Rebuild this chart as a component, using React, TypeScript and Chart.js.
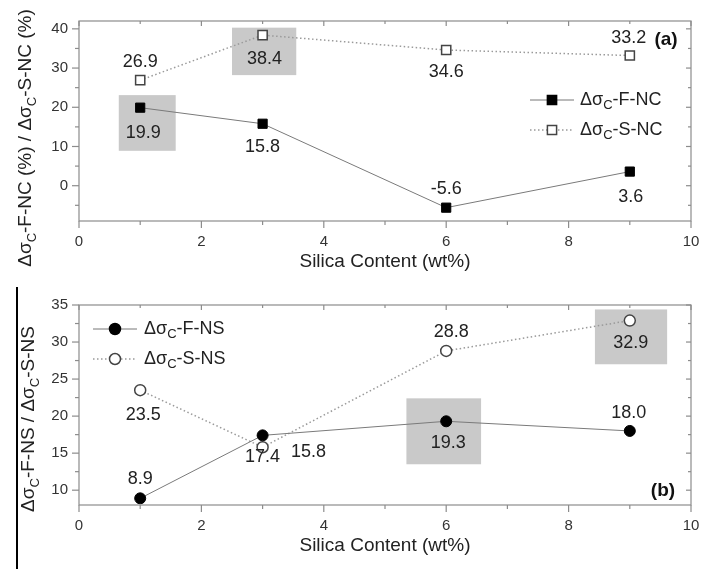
import React, { useEffect, useRef } from "react";
import { Chart, registerables } from "chart.js";

Chart.register(...registerables);

// Silica content of the samples (wt%)
const silica = [1, 3, 6, 9];

// Panel (a): change in critical stress, NC series (%)
const fNC = [19.9, 15.8, -5.6, 3.6];
const sNC = [26.9, 38.4, 34.6, 33.2];

// Panel (b): change in critical stress, NS series
const fNS = [8.9, 17.4, 19.3, 18.0];
const sNS = [23.5, 15.8, 28.8, 32.9];

// Axis tick labels
const xTicks = [0, 2, 4, 6, 8, 10];
const yTicksA = [0, 10, 20, 30, 40];
const yTicksB = [10, 15, 20, 25, 30, 35];

const FONT = "'Liberation Sans', Arial, Helvetica, sans-serif";
const FRAME = "#8c8c8c";
const TEXT = "#222";
const BOX = "#c9c9c9";

type Part = [string, boolean];

function partsFor(series: string): Part[] {
  return [["\u0394\u03c3", false], ["C", true], [series, false]];
}

// Draws text made of normal and subscript pieces starting at (x, y) with a middle baseline.
function drawParts(ctx: CanvasRenderingContext2D, parts: Part[], x: number, y: number, size: number, align: "left" | "center") {
  const sub = Math.round(size * 0.7);
  ctx.textBaseline = "middle";
  ctx.textAlign = "left";
  let total = 0;
  for (const [t, s] of parts) {
    ctx.font = `${s ? sub : size}px ${FONT}`;
    total += ctx.measureText(t).width;
  }
  let cx = align === "center" ? x - total / 2 : x;
  for (const [t, s] of parts) {
    ctx.font = `${s ? sub : size}px ${FONT}`;
    ctx.fillText(t, cx, s ? y + size * 0.32 : y);
    cx += ctx.measureText(t).width;
  }
}

type Marker = "rect" | "circle";

function drawMarker(ctx: CanvasRenderingContext2D, kind: Marker, x: number, y: number, filled: boolean) {
  ctx.save();
  ctx.beginPath();
  if (kind === "rect") ctx.rect(x - 4.6, y - 4.6, 9.2, 9.2);
  else ctx.arc(x, y, 5.5, 0, Math.PI * 2);
  ctx.fillStyle = filled ? "#000" : "#fff";
  ctx.fill();
  ctx.lineWidth = 1.5;
  ctx.strokeStyle = filled ? "#000" : "#444";
  ctx.stroke();
  ctx.restore();
}

interface Panel {
  height: number;
  yMin: number;
  yMax: number;
  yTicks: number[];
  marker: Marker;
  fill: number[];
  open: number[];
  fName: string;
  sName: string;
  // label offsets in px relative to each point: [dx, dy]
  fOffsets: [number, number][];
  sOffsets: [number, number][];
  boxes: { x0: number; x1: number; y0: number; y1: number }[];
  legend: { x: number; y: number; text: number };
  tag: string;
  tagPos: [number, number];
  yTitle: Part[];
  yTitleX: number;
  yTitleY: number;
}

const panelA: Panel = {
  height: 284,
  yMin: -9,
  yMax: 42,
  yTicks: yTicksA,
  marker: "rect",
  fill: fNC,
  open: sNC,
  fName: "-F-NC",
  sName: "-S-NC",
  fOffsets: [[3, 25], [0, 23], [0, -19], [1, 25]],
  sOffsets: [[0, -18], [2, 24], [0, 22], [-1, -17]],
  boxes: [
    { x0: 0.65, x1: 1.58, y0: 8.9, y1: 23.1 },
    { x0: 2.5, x1: 3.55, y0: 28.2, y1: 40.3 },
  ],
  legend: { x: 530, y: 100, text: 580 },
  tag: "(a)",
  tagPos: [666, 40],
  yTitle: [
    ["\u0394\u03c3", false], ["C", true], ["-F-NC (%) / \u0394\u03c3", false], ["C", true], ["-S-NC (%)", false],
  ],
  yTitleX: 26,
  yTitleY: 138,
};

const panelB: Panel = {
  height: 285,
  yMin: 8,
  yMax: 35,
  yTicks: yTicksB,
  marker: "circle",
  fill: fNS,
  open: sNS,
  fName: "-F-NS",
  sName: "-S-NS",
  fOffsets: [[0, -19], [0, 22], [2, 22], [-1, -18]],
  sOffsets: [[3, 25], [46, 5], [5, -19], [1, 22]],
  boxes: [
    { x0: 5.35, x1: 6.57, y0: 13.5, y1: 22.4 },
    { x0: 8.43, x1: 9.61, y0: 27.0, y1: 34.4 },
  ],
  legend: { x: 93, y: 45, text: 144 },
  tag: "(b)",
  tagPos: [663, 207],
  yTitle: [
    ["\u0394\u03c3", false], ["C", true], ["-F-NS / \u0394\u03c3", false], ["C", true], ["-S-NS", false],
  ],
  yTitleX: 29,
  yTitleY: 135,
};

function line(ctx: CanvasRenderingContext2D, x0: number, y0: number, x1: number, y1: number) {
  ctx.beginPath();
  ctx.moveTo(x0, y0);
  ctx.lineTo(x1, y1);
  ctx.stroke();
}

function midpoints(ticks: number[], min: number, max: number): number[] {
  const step = ticks[1] - ticks[0];
  const out = ticks.map((v) => v - step / 2);
  out.push(ticks[ticks.length - 1] + step / 2);
  return out.filter((v) => v > min && v < max);
}

function makeDecor(p: Panel) {
  return {
    id: "panelDecor",
    beforeDatasetsDraw(chart: Chart) {
      const { ctx, scales } = chart;
      const x = scales.x;
      const y = scales.y;
      ctx.save();
      ctx.fillStyle = BOX;
      for (const b of p.boxes) {
        const l = x.getPixelForValue(b.x0);
        const r = x.getPixelForValue(b.x1);
        const t = y.getPixelForValue(b.y1);
        const btm = y.getPixelForValue(b.y0);
        ctx.fillRect(l, t, r - l, btm - t);
      }
      ctx.restore();
    },
    afterDatasetsDraw(chart: Chart) {
      const { ctx, chartArea: a, scales } = chart;
      const x = scales.x;
      const y = scales.y;
      ctx.save();

      // frame
      ctx.strokeStyle = FRAME;
      ctx.lineWidth = 1.2;
      ctx.strokeRect(a.left, a.top, a.right - a.left, a.bottom - a.top);

      // x ticks: outward at bottom, inward at top
      for (const v of xTicks) {
        const px = x.getPixelForValue(v);
        line(ctx, px, a.bottom, px, a.bottom + 7);
        line(ctx, px, a.top, px, a.top + 5);
      }
      for (const v of midpoints(xTicks, 0, 10)) {
        const px = x.getPixelForValue(v);
        line(ctx, px, a.bottom, px, a.bottom + 4);
        line(ctx, px, a.top, px, a.top + 3);
      }
      // y ticks: outward at left, inward at right
      for (const v of p.yTicks) {
        const py = y.getPixelForValue(v);
        line(ctx, a.left - 7, py, a.left, py);
        line(ctx, a.right - 5, py, a.right, py);
      }
      for (const v of midpoints(p.yTicks, p.yMin, p.yMax)) {
        const py = y.getPixelForValue(v);
        line(ctx, a.left - 4, py, a.left, py);
        line(ctx, a.right - 3, py, a.right, py);
      }

      // tick labels
      ctx.fillStyle = "#333";
      ctx.font = `15px ${FONT}`;
      ctx.textBaseline = "middle";
      ctx.textAlign = "center";
      for (const v of xTicks) ctx.fillText(String(v), x.getPixelForValue(v), a.bottom + 21);
      ctx.textAlign = "right";
      for (const v of p.yTicks) ctx.fillText(String(v), a.left - 11, y.getPixelForValue(v));

      // axis titles
      ctx.fillStyle = TEXT;
      ctx.font = `19px ${FONT}`;
      ctx.textAlign = "center";
      ctx.fillText("Silica Content (wt%)", (a.left + a.right) / 2, a.bottom + 41);
      ctx.save();
      ctx.translate(p.yTitleX, p.yTitleY);
      ctx.rotate(-Math.PI / 2);
      drawParts(ctx, p.yTitle, 0, 0, 19, "center");
      ctx.restore();

      // value labels
      ctx.fillStyle = TEXT;
      ctx.font = `18px ${FONT}`;
      ctx.textAlign = "center";
      ctx.textBaseline = "middle";
      silica.forEach((sx, i) => {
        const px = x.getPixelForValue(sx);
        const pf = y.getPixelForValue(p.fill[i]);
        const ps = y.getPixelForValue(p.open[i]);
        ctx.fillText(p.fill[i].toFixed(1), px + p.fOffsets[i][0], pf + p.fOffsets[i][1]);
        ctx.fillText(p.open[i].toFixed(1), px + p.sOffsets[i][0], ps + p.sOffsets[i][1]);
      });

      // legend
      const L = p.legend;
      ctx.strokeStyle = "#777";
      ctx.lineWidth = 1;
      line(ctx, L.x, L.y, L.x + 44, L.y);
      drawMarker(ctx, p.marker, L.x + 22, L.y, true);
      ctx.strokeStyle = "#999";
      ctx.lineWidth = 1.5;
      ctx.setLineDash([1.5, 2.5]);
      line(ctx, L.x, L.y + 30, L.x + 44, L.y + 30);
      ctx.setLineDash([]);
      drawMarker(ctx, p.marker, L.x + 22, L.y + 30, false);
      ctx.fillStyle = TEXT;
      drawParts(ctx, partsFor(p.fName), L.text, L.y, 18, "left");
      drawParts(ctx, partsFor(p.sName), L.text, L.y + 30, 18, "left");

      // panel tag
      ctx.font = `bold 19px ${FONT}`;
      ctx.textAlign = "center";
      ctx.textBaseline = "middle";
      ctx.fillStyle = "#111";
      ctx.fillText(p.tag, p.tagPos[0], p.tagPos[1]);

      ctx.restore();
    },
  };
}

function PanelChart({ p, top }: { p: Panel; top: number }) {
  const ref = useRef<HTMLCanvasElement | null>(null);
  useEffect(() => {
    if (!ref.current) return;
    const pts = (vals: number[]) => silica.map((sx, i) => ({ x: sx, y: vals[i] }));
    const chart = new Chart(ref.current, {
      type: "line",
      data: {
        datasets: [
          {
            data: pts(p.fill),
            borderColor: "#7a7a7a",
            borderWidth: 1,
            pointStyle: p.marker,
            pointRadius: p.marker === "rect" ? 6.5 : 5.5,
            pointBackgroundColor: "#000",
            pointBorderColor: "#000",
            pointBorderWidth: 1,
            tension: 0,
          },
          {
            data: pts(p.open),
            borderColor: "#9a9a9a",
            borderWidth: 1.5,
            borderDash: [1.5, 2.5],
            pointStyle: p.marker,
            pointRadius: p.marker === "rect" ? 6.5 : 5.5,
            pointBackgroundColor: "#fff",
            pointBorderColor: "#444",
            pointBorderWidth: 1.5,
            tension: 0,
          },
        ],
      },
      options: {
        animation: false,
        responsive: false,
        devicePixelRatio: 1,
        layout: { padding: { left: 79, right: 11, top: 21, bottom: p.height - 221 } },
        plugins: { legend: { display: false }, tooltip: { enabled: false } },
        scales: {
          x: { type: "linear", min: 0, max: 10, display: false },
          y: { type: "linear", min: p.yMin, max: p.yMax, display: false },
        },
      },
      plugins: [makeDecor(p)],
    });
    return () => chart.destroy();
  }, [p]);
  return (
    <canvas
      ref={ref}
      width={702}
      height={p.height}
      style={{ position: "absolute", left: 0, top, width: 702, height: p.height }}
    />
  );
}

export default function App() {
  return (
    <div style={{ position: "absolute", left: 0, top: 0, width: 702, height: 569, background: "#fff", overflow: "hidden" }}>
      <PanelChart p={panelA} top={0} />
      <PanelChart p={panelB} top={284} />
      <div style={{ position: "absolute", left: 16, top: 287, width: 1.5, height: 282, background: "#000" }} />
    </div>
  );
}
